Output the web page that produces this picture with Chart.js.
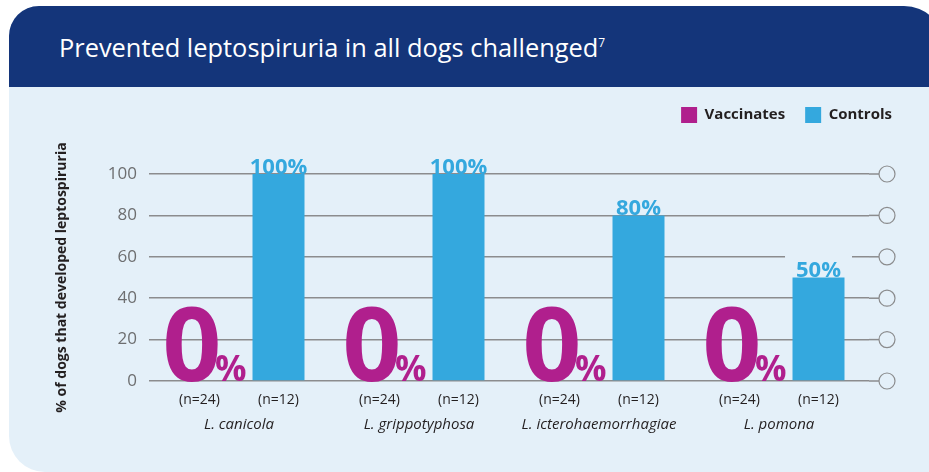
<html>
<head>
	<title>Prevented leptospiruria in all dogs challenged</title>
	<script src="https://cdn.jsdelivr.net/npm/chart.js@4.4.0/dist/chart.umd.min.js"></script>
	<style>
		body {
			margin: 0;
			width: 929px;
			height: 472px;
			overflow: hidden;
			position: relative;
			background: #fff;
			font-family: 'Open Sans', sans-serif;
		}

		.card {
			position: absolute;
			left: 9px;
			top: 6px;
			width: 935px;
			height: 466px;
			background: #e4f0f9;
			border-radius: 30px 40px 0 36px;
			overflow: hidden;
		}

		.head {
			position: absolute;
			left: 0;
			top: 0;
			right: 0;
			height: 81px;
			background: #14357a;
		}

		h1 {
			position: absolute;
			left: 59px;
			top: 34px;
			margin: 0;
			color: #fff;
			font-weight: 400;
			font-size: 25.4px;
			line-height: 26px;
			white-space: nowrap;
		}

		h1 sup {
			font-size: 12px;
			vertical-align: 10px;
			line-height: 0;
		}

		canvas {
			position: absolute;
			left: 0;
			top: 0;
		}
	</style>
</head>

<body>
	<div class="card"><div class="head"></div></div>
	<h1>Prevented leptospiruria in all dogs challenged<sup>7</sup></h1>
	<canvas id="canvas" width="929" height="472"></canvas>
	<script>
		const categories = ['L. canicola', 'L. grippotyphosa', 'L. icterohaemorrhagiae', 'L. pomona'];
		const vaccinates = [0, 0, 0, 0];
		const controls = [100, 100, 80, 50];
		const nVaccinates = [24, 24, 24, 24];
		const nControls = [12, 12, 12, 12];
		const yTicks = [0, 20, 40, 60, 80, 100];

		const bgColor = '#e4f0f9';
		const magenta = '#b01f8d';
		const cyan = '#34a8de';
		const gridColor = '#8b8c8e';

		// legend sits higher than the layout would put it
		const legendLift = 41;

		const extras = {
			id: 'extras',
			afterLayout(chart) {
				chart.legend.top -= legendLift;
				chart.legend.bottom -= legendLift;
			},
			afterDatasetsDraw(chart) {
				const { ctx, chartArea, scales: { y } } = chart;
				ctx.save();

				// grid line extension and circles on the right
				const cx = chartArea.right + 18;
				const r = 8;
				yTicks.forEach((v) => {
					const py = y.getPixelForValue(v);
					ctx.strokeStyle = gridColor;
					ctx.lineWidth = 1.5;
					ctx.beginPath();
					ctx.moveTo(chartArea.right, py);
					ctx.lineTo(cx - r, py);
					ctx.stroke();
					ctx.beginPath();
					ctx.arc(cx, py, r, 0, Math.PI * 2);
					ctx.fillStyle = bgColor;
					ctx.fill();
					ctx.lineWidth = 1.2;
					ctx.stroke();
				});

				const metaV = chart.getDatasetMeta(0);
				const metaC = chart.getDatasetMeta(1);

				// vaccinates: big 0%
				metaV.data.forEach((bar, i) => {
					ctx.fillStyle = magenta;
					ctx.textBaseline = 'alphabetic';
					ctx.font = 'bold 103px "Open Sans"';
					ctx.textAlign = 'center';
					ctx.fillText(String(vaccinates[i]), bar.x - 7.5, bar.base);
					ctx.font = 'bold 35px "Open Sans"';
					ctx.textAlign = 'left';
					ctx.fillText('%', bar.x + 15.5, bar.base);
				});

				// controls: value labels with background box
				ctx.font = 'bold 22px "Open Sans"';
				ctx.textAlign = 'center';
				ctx.textBaseline = 'alphabetic';
				metaC.data.forEach((bar, i) => {
					const txt = controls[i] + '%';
					const w = ctx.measureText(txt).width;
					ctx.fillStyle = bgColor;
					ctx.fillRect(bar.x - w / 2 - 11, bar.y - 23, w + 22, 21.5);
					ctx.fillStyle = cyan;
					ctx.fillText(txt, bar.x, bar.y - 0.5);
				});

				// n= labels
				ctx.font = '14px "Open Sans"';
				ctx.fillStyle = '#231f20';
				ctx.textBaseline = 'middle';
				metaV.data.forEach((bar, i) => {
					ctx.fillText('(n=' + nVaccinates[i] + ')', bar.x, chartArea.bottom + 19);
				});
				metaC.data.forEach((bar, i) => {
					ctx.fillText('(n=' + nControls[i] + ')', bar.x, chartArea.bottom + 19);
				});
				ctx.restore();
			}
		};

		new Chart(document.getElementById('canvas'), {
			type: 'bar',
			data: {
				labels: categories,
				datasets: [
					{ label: 'Vaccinates', data: vaccinates, backgroundColor: magenta, categoryPercentage: 0.878, barPercentage: 0.658 },
					{ label: 'Controls', data: controls, backgroundColor: cyan, categoryPercentage: 0.878, barPercentage: 0.658 },
				],
			},
			options: {
				responsive: false,
				animation: false,
				layout: { padding: { top: 87 + legendLift, left: 46, right: 17, bottom: 3 } },
				plugins: {
					legend: {
						position: 'top',
						align: 'end',
						labels: {
							boxWidth: 16,
							boxHeight: 16,
							padding: 20,
							color: '#231f20',
							font: { family: 'Open Sans', size: 15, weight: 'bold' },
						},
					},
					tooltip: { enabled: false },
				},
				scales: {
					x: {
						grid: { display: false, drawTicks: false },
						border: { display: false },
						ticks: {
							color: '#231f20',
							font: { family: 'Open Sans', size: 15, style: 'italic' },
							padding: 35,
							maxRotation: 0,
							autoSkip: false,
						},
					},
					y: {
						min: 0,
						max: 100,
						afterBuildTicks: (s) => { s.ticks = yTicks.map((v) => ({ value: v })); },
						grid: { color: gridColor, lineWidth: 1.5, drawTicks: false },
						border: { display: false },
						ticks: { color: '#6d6e70', font: { family: 'Open Sans', size: 17 }, padding: 12 },
						title: {
							display: true,
							text: '% of dogs that developed leptospiruria',
							color: '#231f20',
							font: { family: 'Open Sans', size: 14, weight: 'bold' },
							padding: { top: 8, bottom: 0 },
						},
						afterFit: (s) => { s.width = 103; },
					},
					y2: {
						position: 'right',
						grid: { display: false },
						border: { display: false },
						ticks: { display: false },
						afterFit: (s) => { s.width = 43; },
					},
				},
			},
			plugins: [extras],
		});
	</script>
</body>

</html>
